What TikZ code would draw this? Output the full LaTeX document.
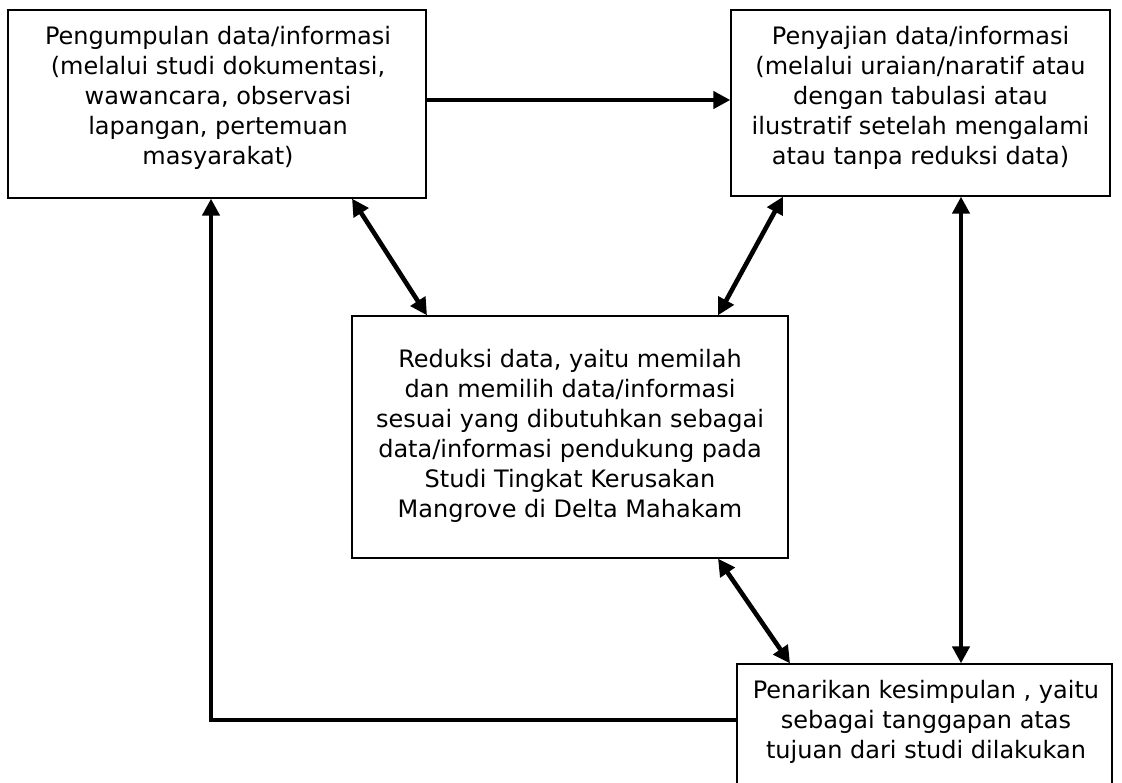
\documentclass[tikz,border=0pt]{standalone}
\usepackage{fontspec}
\setmainfont{DejaVu Sans}
\usetikzlibrary{
	positioning,
	arrows.meta,
	calc}
\tikzset{
	pbox/.style={
		draw,
		line width=1.3pt,
		inner sep=0pt
	},
	ptext/.style={
		align=center,
		inner sep=0pt,
		font=\fontsize{24}{30}\selectfont
	},
	link/.style={line width=4.6pt, -{Triangle[length=17pt, width=17pt]}},
	dlink/.style={line width=4.6pt, {Triangle[length=17pt, width=17pt]}-{Triangle[length=17pt, width=17pt]}},
}

\begin{document}
\begin{tikzpicture}[x=1pt, y=-1pt]
	\clip (0,0) rectangle (1122,782);
	% boxes
	\node[pbox, minimum width=418pt, minimum height=188pt] (A) at (217,104) {};
	\node[pbox, minimum width=379pt, minimum height=186pt] (B) at (920.5,103) {};
	\node[pbox, minimum width=436pt, minimum height=242pt] (C) at (570,437) {};
	\node[pbox, minimum width=375pt, minimum height=140pt] (D) at (924.5,734) {};
	% texts
	\node[ptext] (At) at (218,97.5) {Pengumpulan data/informasi\\(melalui studi dokumentasi,\\wawancara, observasi\\lapangan, pertemuan\\masyarakat)};
	\node[ptext] (Bt) at (920.5,97.5) {Penyajian data/informasi\\(melalui uraian/naratif atau\\dengan tabulasi atau\\ilustratif setelah mengalami\\atau tanpa reduksi data)};
	\node[ptext] (Ct) at (570,436) {Reduksi data, yaitu memilah\\dan memilih data/informasi\\sesuai yang dibutuhkan sebagai\\data/informasi pendukung pada\\Studi Tingkat Kerusakan\\Mangrove di Delta Mahakam};
	\node[ptext] (Dt) at (926,722) {Penarikan kesimpulan , yaitu\\sebagai tanggapan atas\\tujuan dari studi dilakukan};
	% connectors
	\draw[link] ([yshift=4pt]A.east) -- ([yshift=4pt]A.east -| B.west);
	\draw[dlink] ([xshift=135pt]A.south) -- ([xshift=-143pt]C.north);
	\draw[dlink] ([xshift=-137.5pt]B.south) -- ([xshift=148pt]C.north);
	\draw[dlink] ([xshift=148pt]C.south) -- ([xshift=-134.5pt]D.north);
	\draw[dlink] ([xshift=40.5pt]B.south) -- ([xshift=40.5pt]B.south |- D.north);
	\draw[link] ([yshift=14pt]D.west) -| ([xshift=-6pt]A.south);
\end{tikzpicture}
\end{document}
